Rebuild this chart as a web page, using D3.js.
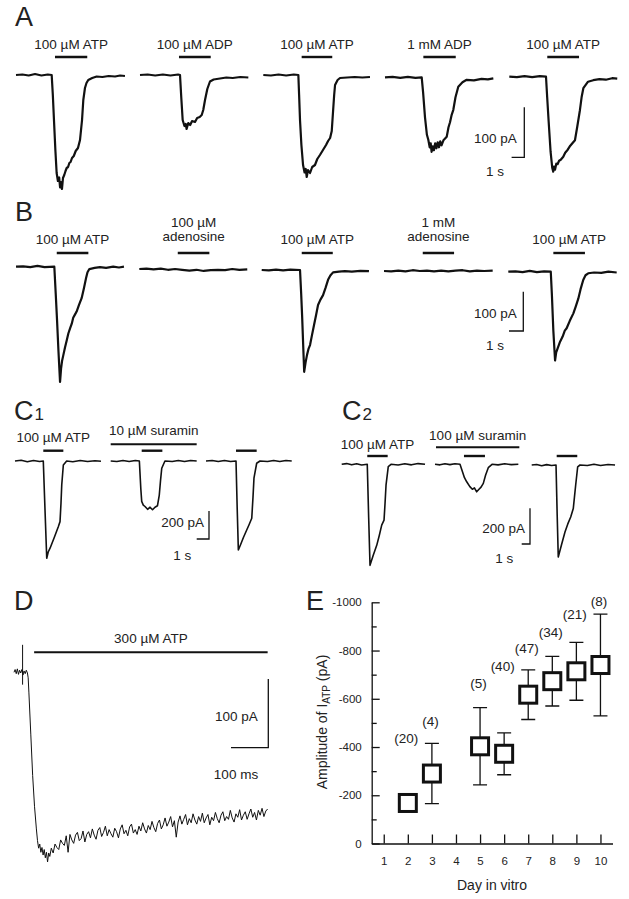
<!DOCTYPE html>
<html>
<head>
<meta charset="utf-8">
<script src="https://cdn.jsdelivr.net/npm/d3@7"></script>
<style>
  body { margin: 0; background: #fff; }
  svg text { font-family: "Liberation Sans", Arial, Helvetica, sans-serif; fill: #222; }
</style>
</head>
<body>
<div id="fig"></div>
<script>
/* ------------------------------ Data ------------------------------ */
// traces are [time (s), current (pA)] measured from the start of each sweep

// A: ATP / ADP
var labelsA = ["100 µM ATP", "100 µM ADP", "100 µM ATP", "1 mM ADP", "100 µM ATP"];
var barsA = [[3.07, 5.61], [3.07, 5.57], [3.02, 5.43], [3.02, 5.57], [2.99, 5.49]];
var traceA1 = [[0,0],[0.5,1],[1.0,-1],[1.5,2],[2.0,-1],[2.5,1],[2.81,0],[2.90,-40],[2.99,-90],[3.10,-150],[3.20,-196],[3.30,-212],[3.40,-205],[3.47,-225],[3.54,-214],[3.62,-228],[3.70,-206],[3.80,-200],[3.90,-192],[3.99,-186],[4.10,-184],[4.20,-176],[4.30,-174],[4.41,-166],[4.55,-162],[4.70,-152],[4.88,-146],[5.04,-130],[5.12,-110],[5.20,-90],[5.30,-50],[5.43,-26],[5.55,-16],[5.69,-10],[6.0,-6],[6.35,-3],[6.8,-4],[7.3,-2],[7.8,-3],[8.2,-1],[8.58,-2]];
var traceA2 = [[0,0],[0.6,1],[1.2,-1],[1.8,1],[2.4,-1],[3.0,1],[3.15,0],[3.25,-45],[3.36,-90],[3.50,-102],[3.60,-98],[3.67,-108],[3.80,-96],[3.95,-100],[4.10,-92],[4.33,-94],[4.50,-86],[4.70,-84],[4.86,-80],[4.98,-70],[5.12,-50],[5.30,-28],[5.51,-13],[5.80,-9],[6.30,-7],[6.8,-5],[7.3,-6],[7.9,-4],[8.53,-5]];
var traceA3 = [[0,0],[0.6,-1],[1.2,1],[1.8,-1],[2.4,1],[2.76,0],[2.82,-40],[2.89,-90],[3.0,-140],[3.13,-180],[3.25,-195],[3.34,-188],[3.42,-204],[3.52,-190],[3.68,-196],[3.85,-184],[4.07,-180],[4.25,-168],[4.46,-160],[4.70,-150],[4.94,-140],[5.10,-132],[5.26,-126],[5.39,-112],[5.50,-70],[5.58,-40],[5.65,-20],[5.85,-10],[6.04,-6],[6.6,-5],[7.2,-4],[7.8,-5],[8.40,-4]];
var traceA4 = [[0,0],[0.6,1],[1.2,-1],[1.8,1],[2.4,-1],[2.89,0],[3.0,-30],[3.15,-80],[3.30,-115],[3.41,-125],[3.52,-140],[3.60,-132],[3.67,-149],[3.76,-138],[3.85,-146],[3.95,-132],[4.05,-142],[4.15,-130],[4.25,-140],[4.35,-128],[4.45,-136],[4.60,-126],[4.75,-122],[4.86,-119],[5.0,-100],[5.12,-90],[5.25,-75],[5.38,-65],[5.55,-40],[5.77,-19],[6.1,-10],[6.43,-5],[7.0,-6],[7.6,-3],[8.1,-4],[8.53,-2]];
var traceA5 = [[0,0],[0.6,-1],[1.2,1],[1.8,-1],[2.4,1],[2.89,0],[2.98,-40],[3.10,-90],[3.25,-150],[3.38,-182],[3.46,-190],[3.52,-180],[3.60,-186],[3.70,-174],[3.80,-175],[3.92,-168],[4.05,-166],[4.25,-160],[4.40,-152],[4.60,-146],[4.80,-138],[5.0,-132],[5.17,-127],[5.35,-100],[5.56,-67],[5.70,-40],[5.83,-23],[6.2,-10],[6.61,-7],[7.1,-5],[7.6,-6],[8.1,-3],[8.5,-4]];

// B: ATP / adenosine
var labelsB = [["100 µM ATP"], ["100 µM", "adenosine"], ["100 µM ATP"], ["1 mM", "adenosine"], ["100 µM ATP"]];
var barsB = [[2.85, 5.06], [2.69, 4.90], [2.80, 4.97], [2.71, 4.90], [3.15, 5.36]];
var traceB1 = [[0,0],[0.5,1],[1.0,-1],[1.5,2],[2.0,-1],[2.68,0],[2.78,-70],[2.87,-136],[2.97,-215],[3.08,-293],[3.15,-260],[3.22,-240],[3.31,-225],[3.43,-205],[3.55,-187],[3.66,-170],[3.78,-157],[3.90,-145],[4.0,-130],[4.12,-122],[4.24,-114],[4.40,-98],[4.59,-80],[4.75,-55],[4.90,-29],[5.0,-14],[5.13,-6],[5.5,-3],[5.87,-1],[6.3,-3],[6.8,0],[7.2,-2],[7.55,0]];
var traceB2 = [[0,0],[0.5,1],[1.0,-1],[1.5,1],[2.0,-2],[2.5,0],[3.0,-2],[3.5,-4],[4.0,-2],[4.5,-5],[5.0,-3],[5.5,-2],[6.0,-3],[6.5,0],[7.0,-2],[7.55,-1]];
var traceB3 = [[0,0],[0.5,-1],[1.0,1],[1.5,-1],[2.0,1],[2.68,0],[2.76,-60],[2.83,-120],[2.91,-200],[2.97,-259],[3.07,-235],[3.17,-216],[3.28,-200],[3.38,-191],[3.52,-165],[3.66,-140],[3.80,-115],[3.94,-89],[4.10,-76],[4.29,-64],[4.47,-45],[4.64,-25],[4.80,-14],[4.99,-6],[5.4,-4],[5.82,-3],[6.3,-4],[6.9,-2],[7.50,-3]];
var traceB4 = [[0,0],[0.5,-1],[1.0,1],[1.5,-1],[2.0,2],[2.5,0],[3.0,1],[3.5,-1],[4.0,1],[4.5,-1],[5.0,1],[5.5,2],[6.0,-1],[6.5,1],[7.0,0],[7.6,1]];
var traceB5 = [[0,0],[0.5,1],[1.0,-1],[1.5,2],[2.0,-1],[2.5,1],[2.97,0],[3.05,-60],[3.15,-150],[3.27,-226],[3.35,-205],[3.45,-195],[3.62,-178],[3.80,-165],[3.95,-150],[4.08,-144],[4.30,-125],[4.55,-106],[4.72,-88],[4.90,-68],[5.05,-45],[5.24,-21],[5.40,-9],[5.59,-4],[6.0,-2],[6.5,-3],[7.0,0],[7.58,-2]];

// C1: 10 µM suramin
var barsC1 = [[2.30, 3.93], [2.52, 4.20], [2.44, 4.12]];
var suraminC1 = [0, 6.99];
var traceC1a = [[0,0],[0.5,5],[1.0,-5],[1.5,4],[2.0,-3],[2.30,0],[2.44,-350],[2.58,-695],[2.70,-650],[2.85,-623],[3.20,-545],[3.52,-469],[3.66,-433],[3.74,-300],[3.80,-171],[3.93,-29],[4.20,0],[4.7,-5],[5.3,3],[5.9,-4],[6.5,2],[6.99,-2]];
var traceC1b = [[0,0],[0.5,-4],[1.0,3],[1.5,-3],[2.0,4],[2.33,0],[2.45,-200],[2.52,-288],[2.65,-315],[2.79,-325],[3.0,-345],[3.20,-330],[3.40,-348],[3.60,-330],[3.80,-320],[3.95,-243],[4.05,-140],[4.15,-52],[4.41,0],[5.0,-4],[5.5,3],[6.0,-3],[6.5,4],[6.99,0]];
var traceC1c = [[0,0],[0.5,4],[1.0,-3],[1.5,3],[2.0,-4],[2.44,0],[2.54,-350],[2.63,-636],[2.80,-600],[3.05,-545],[3.31,-493],[3.50,-455],[3.72,-409],[3.82,-260],[3.90,-123],[4.12,-16],[4.39,0],[5.0,-4],[5.5,3],[6.0,-3],[6.5,4],[6.97,0]];

// C2: 100 µM suramin
var barsC2 = [[3.08, 5.54], [3.49, 6.02], [3.01, 5.49]];
var suraminC2 = [0.12, 10.16];
var traceC2a = [[0,0],[0.6,4],[1.2,-3],[1.8,3],[2.4,-4],[3.08,0],[3.25,-300],[3.41,-566],[3.80,-510],[4.22,-454],[4.52,-400],[4.82,-341],[5.10,-313],[5.22,-220],[5.34,-117],[5.61,-13],[5.94,0],[6.8,-4],[7.6,3],[8.4,-3],[9.2,4],[10.04,0]];
var traceC2b = [[0,0],[0.6,-3],[1.2,3],[1.8,-2],[2.4,3],[3.01,0],[3.30,-40],[3.55,-75],[3.82,-98],[4.20,-125],[4.50,-140],[4.75,-132],[5.02,-154],[5.30,-140],[5.55,-128],[5.82,-107],[6.10,-60],[6.42,-19],[6.87,0],[7.6,-3],[8.4,3],[9.2,-2],[10.04,0]];
var traceC2c = [[0,0],[0.6,3],[1.2,-4],[1.8,2],[2.4,-3],[2.93,0],[3.07,-280],[3.20,-515],[3.60,-445],[4.01,-375],[4.35,-330],[4.70,-291],[5.01,-244],[5.15,-180],[5.30,-112],[5.54,-10],[5.82,0],[6.7,-3],[7.5,4],[8.3,-3],[9.2,3],[10.04,0]];

// D: 300 µM ATP, [time (ms), current (pA)]
var barD = [54, 680];
var artifactD = [23, 40, -18];   // time, top, bottom
var traceD = [[0,0],[3,4],[6,-2],[9,5],[12,-3],[15,3],[18,-1],[21,4],[24,-4],[27,2],[30,-2],[33,3],[36,-1],[38,-8],[40,-30],[45,-90],[50,-150],[55,-195],[60,-228],
  [63,-245],[66,-256],[69,-250],[72,-262],[75,-255],[78,-266],[81,-258],[84,-270],[87,-262],[90,-276],[93,-263],[96,-268],
  [100,-256],[105,-263],[110,-250],[115,-255],[120,-258],[125,-244],[130,-249],[135,-252],[140,-238],[145,-262],[150,-236],[155,-244],[160,-249],[165,-237],[170,-233],[175,-245],[180,-242],[185,-231],[190,-247],[195,-236],
  [200,-232],[205,-241],[210,-228],[215,-237],[220,-243],[225,-230],[230,-226],[235,-239],[240,-233],[245,-224],[250,-238],[255,-229],[260,-235],[265,-240],[270,-227],[275,-232],[280,-241],[285,-228],[290,-222],[295,-235],
  [300,-230],[305,-238],[310,-225],[315,-221],[320,-234],[325,-229],[330,-236],[335,-224],[340,-231],[345,-219],[350,-228],[355,-234],[360,-223],[365,-229],[370,-217],[375,-226],[380,-232],[385,-220],[390,-215],[395,-228],
  [400,-222],[405,-212],[410,-224],[415,-218],[420,-210],[425,-225],[430,-216],[435,-240],[440,-218],[445,-209],[450,-221],[455,-214],[460,-207],[465,-222],[470,-213],[475,-219],[480,-206],[485,-215],[490,-221],[495,-210],
  [500,-217],[505,-205],[510,-219],[515,-212],[520,-207],[525,-222],[530,-211],[535,-216],[540,-204],[545,-213],[550,-219],[555,-208],[560,-203],[565,-216],[570,-210],[575,-214],[580,-201],[585,-212],[590,-218],[595,-206],
  [600,-211],[605,-200],[610,-215],[615,-208],[620,-203],[625,-214],[630,-206],[635,-199],[640,-211],[645,-204],[650,-215],[655,-201],[660,-208],[665,-198],[670,-210],[675,-202],[680,-199]];

// E: amplitude vs day in vitro
var days = [2, 3, 5, 6, 7, 8, 9, 10];
var meanAmp = [-168, -290, -403, -372, -617, -673, -714, -740];
var semAmp = [0, 125, 160, 87, 103, 103, 120, 211];
var nCells = [20, 4, 5, 40, 47, 34, 21, 8];
var yTicks = [0, -200, -400, -600, -800, -1000];
var yMinor = [-100, -300, -500, -700, -900];
var xTicks = [1, 2, 3, 4, 5, 6, 7, 8, 9, 10];

/* ------------------------------ Drawing ------------------------------ */

var svg = d3.select("#fig")
  .append("svg")
    .attr("width", 629)
    .attr("height", 899);

function panelLetter(x, y, letter, sub) {
  var t = svg.append("text")
    .attr("x", x).attr("y", y)
    .style("font-size", "27px")
    .text(letter);
  if (sub) {
    t.append("tspan").style("font-size", "17px").attr("dx", 1).text(sub);
  }
}

function label(x, y, txt, size) {
  svg.append("text")
    .attr("x", x).attr("y", y)
    .attr("text-anchor", "middle")
    .style("font-size", (size || 13.5) + "px")
    .text(txt);
}

// one current sweep, put on the page with its start at x0 and baseline at y0
function drawTrace(pts, x, y, x0, y0, sw) {
  var line = d3.line()
    .x(function(d) { return x(d[0]); })
    .y(function(d) { return y(d[1]); });
  svg.append("path")
    .datum(pts)
    .attr("transform", "translate(" + x0 + "," + y0 + ")")
    .attr("d", line)
    .attr("fill", "none")
    .attr("stroke", "#111")
    .attr("stroke-width", sw)
    .attr("stroke-linejoin", "round");
}

function drawBar(bar, x, x0, yPos, sw) {
  svg.append("line")
    .attr("x1", x0 + x(bar[0])).attr("x2", x0 + x(bar[1]))
    .attr("y1", yPos).attr("y2", yPos)
    .attr("stroke", "#111")
    .attr("stroke-width", sw || 2.4);
}

// L-shaped scale bar: corner at (cx, cy)
function scaleBar(cx, cy, x, y, tVal, iVal, tText, iText, iTextX, iTextY, tTextX, tTextY) {
  var h = y(-iVal) - y(0), w = x(tVal) - x(0);
  svg.append("path")
    .attr("d", "M" + cx + "," + (cy - h) + "V" + cy + "H" + (cx - w))
    .attr("fill", "none")
    .attr("stroke", "#111")
    .attr("stroke-width", 1.3);
  svg.append("text")
    .attr("x", iTextX).attr("y", iTextY)
    .attr("text-anchor", "end")
    .style("font-size", "13.5px")
    .text(iText);
  label(tTextX, tTextY, tText);
}

// ---- panel A ----
var xA = d3.scaleLinear().domain([0, 1]).range([0, 12.7]);
var yA = d3.scaleLinear().domain([0, -100]).range([0, 50]);
var startA = [16, 140, 263.3, 385, 509.3];
var baseA = [75, 75, 75, 77.3, 76.7];
var tracesA = [traceA1, traceA2, traceA3, traceA4, traceA5];

panelLetter(15, 26, "A");
tracesA.forEach(function(tr, i) {
  drawTrace(tr, xA, yA, startA[i], baseA[i], 2.2);
  drawBar(barsA[i], xA, startA[i], 57);
  label(startA[i] + xA((barsA[i][0] + barsA[i][1]) / 2), 48.5, labelsA[i]);
});
scaleBar(524.3, 157.3, xA, yA, 1, 100, "1 s", "100 pA", 516.7, 143, 495, 176);

// ---- panel B ----
var xB = d3.scaleLinear().domain([0, 1]).range([0, 14.3]);
var yB = d3.scaleLinear().domain([0, -100]).range([0, 39.3]);
var startB = [16, 139.3, 261.7, 384, 508.3];
var baseB = [266.7, 269, 270, 271, 271.7];
var tracesB = [traceB1, traceB2, traceB3, traceB4, traceB5];

panelLetter(15, 221, "B");
tracesB.forEach(function(tr, i) {
  drawTrace(tr, xB, yB, startB[i], baseB[i], 2.2);
  drawBar(barsB[i], xB, startB[i], 253);
  var cx = startB[i] + xB((barsB[i][0] + barsB[i][1]) / 2);
  if (labelsB[i].length == 1) {
    label(cx, 243.5, labelsB[i][0]);
  } else {
    label(cx, 226.5, labelsB[i][0]);
    label(cx, 240.5, labelsB[i][1]);
  }
});
scaleBar(523.3, 331, xB, yB, 1, 100, "1 s", "100 pA", 516.7, 318, 495, 350);

// ---- panel C1 ----
var xC1 = d3.scaleLinear().domain([0, 1]).range([0, 12.3]);
var yC1 = d3.scaleLinear().domain([0, -200]).range([0, 28]);
var startC1 = [15, 110.7, 206];
var tracesC1 = [traceC1a, traceC1b, traceC1c];

panelLetter(14, 420, "C", "1");
tracesC1.forEach(function(tr, i) {
  drawTrace(tr, xC1, yC1, startC1[i], 461, 1.6);
  drawBar(barsC1[i], xC1, startC1[i], 450.7);
});
drawBar(suraminC1, xC1, startC1[1], 444.3, 2);
label(startC1[0] + xC1((barsC1[0][0] + barsC1[0][1]) / 2), 442, "100 µM ATP");
label(startC1[1] + xC1((suraminC1[0] + suraminC1[1]) / 2), 434.5, "10 µM suramin");
scaleBar(209, 539, xC1, yC1, 1, 200, "1 s", "200 pA", 204, 527, 182.3, 559.5);

// ---- panel C2 ----
var xC2 = d3.scaleLinear().domain([0, 1]).range([0, 8.3]);
var yC2 = d3.scaleLinear().domain([0, -200]).range([0, 35.7]);
var startC2 = [341.7, 435, 531.7];
var baseC2 = [464.3, 464.3, 465];
var tracesC2 = [traceC2a, traceC2b, traceC2c];

panelLetter(342, 419.5, "C", "2");
tracesC2.forEach(function(tr, i) {
  drawTrace(tr, xC2, yC2, startC2[i], baseC2[i], 1.6);
  drawBar(barsC2[i], xC2, startC2[i], 456);
});
drawBar(suraminC2, xC2, startC2[1], 447.3, 2);
label(startC2[0] + xC2((barsC2[0][0] + barsC2[0][1]) / 2), 448.5, "100 µM ATP");
label(startC2[1] + xC2((suraminC2[0] + suraminC2[1]) / 2), 440.2, "100 µM suramin");
scaleBar(530, 544, xC2, yC2, 1, 200, "1 s", "200 pA", 525, 533, 504.3, 563);

// ---- panel D ----
var xD = d3.scaleLinear().domain([0, 100]).range([0, 37.3]);
var yD = d3.scaleLinear().domain([0, -100]).range([0, 68.7]);
var x0D = 14, y0D = 672.3;

panelLetter(14, 610, "D");
drawTrace(traceD, xD, yD, x0D, y0D, 1);
svg.append("line")
  .attr("x1", x0D + xD(artifactD[0])).attr("x2", x0D + xD(artifactD[0]))
  .attr("y1", y0D + yD(artifactD[1])).attr("y2", y0D + yD(artifactD[2]))
  .attr("stroke", "#111").attr("stroke-width", 1);
drawBar(barD, xD, x0D, 652.3, 2);
label(x0D + xD((barD[0] + barD[1]) / 2), 642.5, "300 µM ATP");
scaleBar(268.3, 747.7, xD, yD, 100, 100, "100 ms", "100 pA", 257.7, 721, 236, 779);

// ---- panel E ----
var xE = d3.scaleLinear().domain([0.5, 10.5]).range([371.7, 612.5]);
var yE = d3.scaleLinear().domain([0, -1000]).range([843.5, 602.3]);

panelLetter(306, 610, "E");

var gE = svg.append("g");
gE.append("g")
  .attr("transform", "translate(" + xE.range()[0] + ",0)")
  .call(d3.axisLeft(yE).tickValues(yMinor).tickSize(-5).tickFormat(""))
  .call(function(g) { g.select(".domain").remove(); });
var yAxis = gE.append("g")
  .attr("transform", "translate(" + xE.range()[0] + ",0)")
  .call(d3.axisLeft(yE).tickValues(yTicks).tickSizeInner(-8).tickSizeOuter(0).tickPadding(10)
        .tickFormat(function(d) { return String(d); }));
var xAxis = gE.append("g")
  .attr("transform", "translate(0," + yE(0) + ")")
  .call(d3.axisBottom(xE).tickValues(xTicks).tickSizeInner(-9).tickSizeOuter(0).tickPadding(13));
gE.selectAll(".domain, .tick line").attr("stroke", "#111").attr("stroke-width", 1.3);
gE.selectAll(".tick text").style("font-size", "11.5px").style("font-family", "Liberation Sans, Arial, sans-serif").attr("fill", "#2a2a2a");

// error bars
var capW = 7;
days.forEach(function(d, i) {
  if (semAmp[i] <= 0) return;
  var cx = xE(d), top = yE(meanAmp[i] - semAmp[i]), bot = yE(meanAmp[i] + semAmp[i]);
  gE.append("path")
    .attr("d", "M" + (cx - capW) + "," + top + "H" + (cx + capW) + "M" + cx + "," + top + "V" + bot +
               "M" + (cx - capW) + "," + bot + "H" + (cx + capW))
    .attr("fill", "none").attr("stroke", "#111").attr("stroke-width", 1.3);
});

// mean squares
gE.selectAll("rect.mean")
  .data(days)
  .enter()
  .append("rect")
    .attr("class", "mean")
    .attr("x", function(d) { return xE(d) - 8.5; })
    .attr("y", function(d, i) { return yE(meanAmp[i]) - 8.5; })
    .attr("width", 17)
    .attr("height", 17)
    .attr("fill", "#fff")
    .attr("stroke", "#111")
    .attr("stroke-width", 3);

// cell counts; label heights picked to match the figure
var nLabelAt = [-418, -488, -644, -715, -790, -857, -930, -986];
days.forEach(function(d, i) {
  label(xE(d) - 1.5, yE(nLabelAt[i]), "(" + nCells[i] + ")", 13.5);
});

label(492, 890, "Day in vitro", 14);
var yl = svg.append("text")
  .attr("transform", "translate(327,722) rotate(-90)")
  .attr("text-anchor", "middle")
  .style("font-size", "14px");
yl.append("tspan").text("Amplitude of I");
yl.append("tspan").attr("dy", 3).style("font-size", "10px").text("ATP");
yl.append("tspan").attr("dy", -3).text(" (pA)");
</script>
</body>
</html>
